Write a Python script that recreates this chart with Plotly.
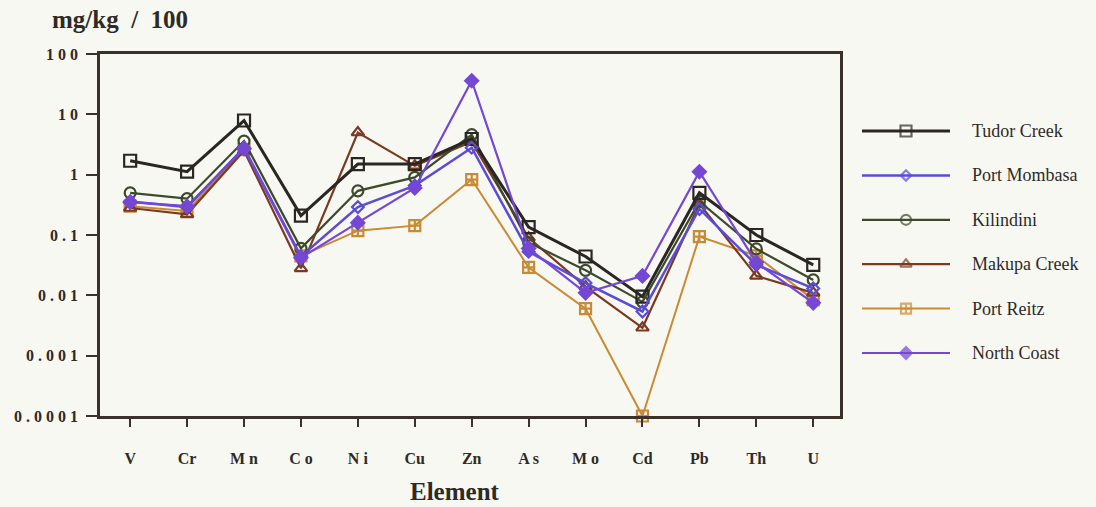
import plotly.graph_objects as go

elements = ["V", "Cr", "Mn", "Co", "Ni", "Cu", "Zn", "As", "Mo", "Cd", "Pb", "Th", "U"]
element_labels = ["V", "Cr", "M n", "C o", "N i", "Cu", "Zn", "A s", "M o", "Cd", "Pb", "Th", "U"]

tudor_creek   = [1.7, 1.12, 7.9, 0.21, 1.5, 1.5, 3.9, 0.135, 0.044, 0.0095, 0.5, 0.1, 0.032]
port_mombasa  = [0.36, 0.29, 2.8, 0.044, 0.29, 0.66, 2.8, 0.053, 0.016, 0.0054, 0.27, 0.032, 0.013]
kilindini     = [0.5, 0.4, 3.6, 0.06, 0.54, 0.9, 4.6, 0.075, 0.026, 0.0078, 0.36, 0.059, 0.018]
makupa_creek  = [0.28, 0.22, 2.5, 0.028, 5.0, 1.4, 3.5, 0.09, 0.014, 0.0029, 0.33, 0.021, 0.011]
port_reitz    = [0.3, 0.25, 2.6, 0.045, 0.118, 0.143, 0.83, 0.029, 0.006, 0.0001, 0.094, 0.045, 0.0085]
north_coast   = [0.35, 0.3, 2.7, 0.042, 0.16, 0.6, 36.0, 0.06, 0.011, 0.021, 1.12, 0.035, 0.0075]

series_names = ["Tudor Creek", "Port Mombasa", "Kilindini", "Makupa Creek", "Port Reitz", "North Coast"]
series_values = [tudor_creek, port_mombasa, kilindini, makupa_creek, port_reitz, north_coast]
series_colors = ["#2a2622", "#5b4cd6", "#3c4a2c", "#7a3a22", "#c98a36", "#7447d4"]
series_symbols = ["square-open", "diamond-open", "circle-open", "triangle-up-open", "square-cross-open", "diamond"]
series_msize = [12, 9, 11, 11, 11, 10]
series_lw = [3, 2.5, 2.2, 2.2, 2, 2.2]

ytick_vals = [0.0001, 0.001, 0.01, 0.1, 1, 10, 100]
ytick_text = ["0 . 0 0 0 1", "0 . 0 0 1", "0 . 0 1", "0 . 1", "1", "1 0", "1 0 0"]

BG = "#f8f8f3"
AXC = "#3a312a"
TXT = "#2e2a26"
SERIF = "Liberation Serif"

fig = go.Figure()

order = [4, 3, 2, 0, 1, 5]
for i in order:
    fig.add_trace(go.Scatter(
        x=list(range(len(elements))), y=series_values[i], name=series_names[i],
        mode="lines+markers",
        line=dict(color=series_colors[i], width=series_lw[i]),
        marker=dict(symbol=series_symbols[i], size=series_msize[i], color=series_colors[i],
                    line=dict(color=series_colors[i], width=2.2)),
        showlegend=False, xaxis="x", yaxis="y", cliponaxis=False,
    ))

W, H = 1096, 507
ml, mr, mt, mb = 100, 10, 54, 91
pw = W - ml - mr
ph = H - mt - mb
main_right = 840
leg_y0, leg_dy = 131, 44.4

# custom legend drawn on auxiliary axes
for k, name in enumerate(series_names):
    fig.add_trace(go.Scatter(
        x=[0, 0.5, 1], y=[k, k, k], mode="lines+markers",
        line=dict(color=series_colors[k], width=series_lw[k]),
        marker=dict(symbol=series_symbols[k], size=[0, series_msize[k] - 1, 0],
                    color=series_colors[k], line=dict(color=series_colors[k], width=2.2)),
        showlegend=False, xaxis="x2", yaxis="y2", hoverinfo="skip",
    ))
    fig.add_annotation(x=(970 - ml) / pw, y=(H - mb - (leg_y0 + k * leg_dy)) / ph,
                       xref="paper", yref="paper", text=name, showarrow=False,
                       xanchor="left", yanchor="middle",
                       font=dict(family=SERIF, size=18, color=TXT))

fig.update_layout(
    width=W, height=H,
    margin=dict(l=ml, r=mr, t=mt, b=mb),
    paper_bgcolor=BG, plot_bgcolor=BG,
    showlegend=False,
    xaxis=dict(
        domain=[0, (main_right - ml) / pw],
        range=[-0.53, 12.47], tickmode="array",
        tickvals=list(range(len(elements))), ticktext=element_labels,
        showgrid=False, zeroline=False,
        showline=True, linecolor=AXC, linewidth=2.5, mirror=True,
        ticks="outside", ticklen=8, tickwidth=2, tickcolor=AXC,
        ticklabelstandoff=18,
        tickfont=dict(family=SERIF, size=16, color=TXT, weight="bold"),
    ),
    yaxis=dict(
        type="log", range=[-4, 2], tickmode="array",
        tickvals=ytick_vals, ticktext=ytick_text,
        showgrid=False, zeroline=False,
        showline=True, linecolor=AXC, linewidth=2.5, mirror=True,
        ticks="outside", ticklen=11, tickwidth=2, tickcolor=AXC,
        ticklabelstandoff=5,
        tickfont=dict(family=SERIF, size=16, color=TXT, weight="bold"),
    ),
    xaxis2=dict(domain=[(862 - ml) / pw, (950 - ml) / pw], range=[0, 1], anchor="y2",
                visible=False, fixedrange=True),
    yaxis2=dict(domain=[0, 1], range=[(H - mb - leg_y0) / leg_dy, (mt - leg_y0) / leg_dy], anchor="x2",
                visible=False, fixedrange=True),
)

fig.add_annotation(x=(50 - ml) / pw, y=(H - mb - 20) / ph, xref="paper", yref="paper",
                   text="<b>mg/kg\u00a0\u00a0/\u00a0\u00a0100</b>", showarrow=False, xanchor="left", yanchor="middle",
                   font=dict(family=SERIF, size=25, color=TXT))
fig.add_annotation(x=(455 - ml) / pw, y=(H - mb - 491) / ph, xref="paper", yref="paper",
                   text="<b>Element</b>", showarrow=False, xanchor="center", yanchor="middle",
                   borderpad=0,
                   font=dict(family=SERIF, size=25, color=TXT))

fig.write_html("out.html")
